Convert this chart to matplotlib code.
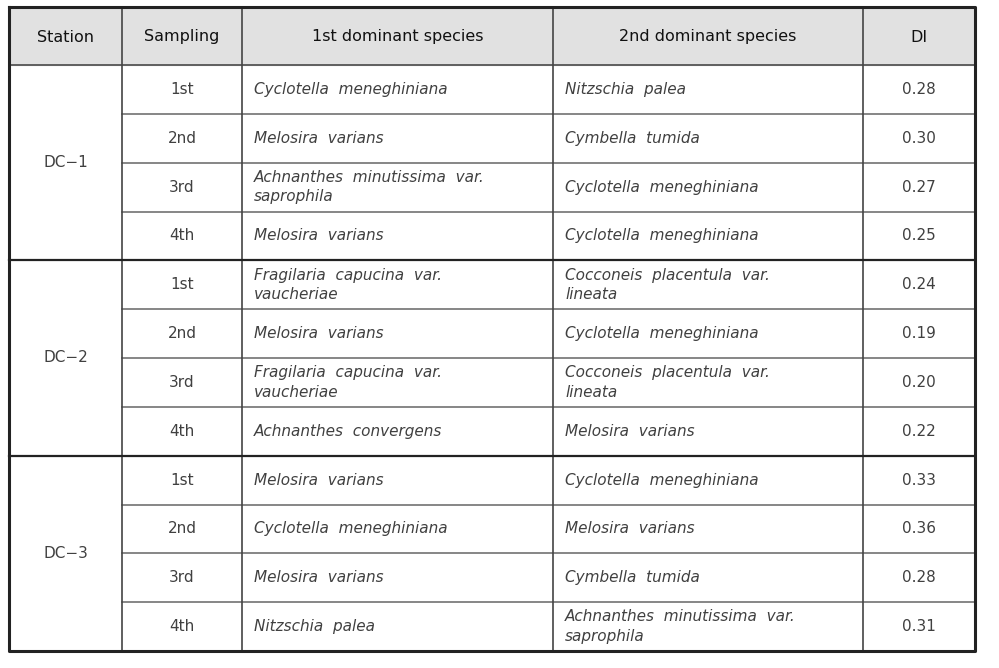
import matplotlib.pyplot as plt

# table contents
header = ["Station", "Sampling", "1st dominant species", "2nd dominant species", "DI"]
stations = ["DC-1", "DC-2", "DC-3"]
samplings = ["1st", "2nd", "3rd", "4th"]

first_species = [
    "Cyclotella  meneghiniana", "Melosira  varians",
    "Achnanthes  minutissima  var.\nsaprophila", "Melosira  varians",
    "Fragilaria  capucina  var.\nvaucheriae", "Melosira  varians",
    "Fragilaria  capucina  var.\nvaucheriae", "Achnanthes  convergens",
    "Melosira  varians", "Cyclotella  meneghiniana",
    "Melosira  varians", "Nitzschia  palea",
]
second_species = [
    "Nitzschia  palea", "Cymbella  tumida",
    "Cyclotella  meneghiniana", "Cyclotella  meneghiniana",
    "Cocconeis  placentula  var.\nlineata", "Cyclotella  meneghiniana",
    "Cocconeis  placentula  var.\nlineata", "Melosira  varians",
    "Cyclotella  meneghiniana", "Melosira  varians",
    "Cymbella  tumida", "Achnanthes  minutissima  var.\nsaprophila",
]
di_values = [0.28, 0.30, 0.27, 0.25, 0.24, 0.19, 0.20, 0.22, 0.33, 0.36, 0.28, 0.31]

# layout in pixels
col_x = [9, 122, 242, 553, 863, 975]
top, head_bot, bottom = 7, 65, 651
n_rows = len(di_values)
row_h = (bottom - head_bot) / n_rows

txt = "#404040"
dark = "#222222"
grey = "#666666"
fs = 11

fig = plt.figure(figsize=(9.99, 6.68), dpi=100)
ax = fig.add_axes([0, 0, 1, 1])
ax.set_xlim(0, 999)
ax.set_ylim(668, 0)
ax.axis("off")

# header background
ax.fill_between([col_x[0], col_x[-1]], top, head_bot, color="#e1e1e1", zorder=0)

for i, h in enumerate(header):
    ax.text((col_x[i] + col_x[i + 1]) / 2, (top + head_bot) / 2 + 1, h,
            ha="center", va="center", fontsize=fs + 0.5, color="#111111")

# body
for r in range(n_rows):
    yc = head_bot + (r + 0.5) * row_h
    ax.text((col_x[1] + col_x[2]) / 2, yc, samplings[r % 4],
            ha="center", va="center", fontsize=fs, color=txt)
    ax.text(col_x[2] + 12, yc, first_species[r], ha="left", va="center",
            fontsize=fs, style="italic", color=txt, linespacing=1.35)
    ax.text(col_x[3] + 12, yc, second_species[r], ha="left", va="center",
            fontsize=fs, style="italic", color=txt, linespacing=1.35)
    ax.text((col_x[4] + col_x[5]) / 2, yc, f"{di_values[r]:.2f}",
            ha="center", va="center", fontsize=fs, color=txt)

for g, st in enumerate(stations):
    yc = head_bot + (g * 4 + 2) * row_h
    ax.text((col_x[0] + col_x[1]) / 2, yc, st.replace("-", "\u2212"),
            ha="center", va="center", fontsize=fs, color=txt)

# row lines (thin inside a station, heavy between stations)
for r in range(1, n_rows):
    y = head_bot + r * row_h
    if r % 4 == 0:
        ax.plot([col_x[0], col_x[-1]], [y, y], color=dark, lw=1.6, zorder=3)
    else:
        ax.plot([col_x[1], col_x[-1]], [y, y], color=grey, lw=1.1, zorder=2)

ax.plot([col_x[0], col_x[-1]], [head_bot, head_bot], color="#555555", lw=1.3, zorder=2)

# vertical lines
for x in col_x[1:-1]:
    ax.plot([x, x], [top, bottom], color="#444444", lw=1.2, zorder=2)

# outer frame
ax.plot([col_x[0], col_x[-1], col_x[-1], col_x[0], col_x[0]],
        [top, top, bottom, bottom, top], color=dark, lw=2.2, zorder=4)

fig.savefig("out.png", dpi=100, facecolor="white")
